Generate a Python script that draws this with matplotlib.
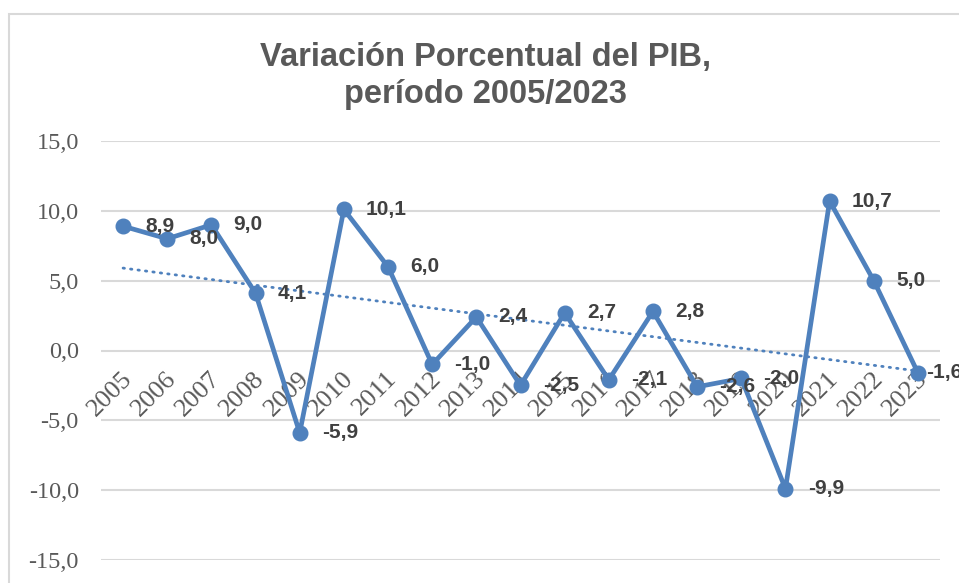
import matplotlib
matplotlib.use("Agg")
import matplotlib.pyplot as plt
import numpy as np
from matplotlib.patches import Rectangle
import matplotlib.transforms as mtransforms

years = [str(y) for y in range(2005, 2024)]
pib = [8.9, 8.0, 9.0, 4.1, -5.9, 10.1, 6.0, -1.0, 2.4, -2.5,
       2.7, -2.1, 2.8, -2.6, -2.0, -9.9, 10.7, 5.0, -1.6]
yticks = [-15, -10, -5, 0, 5, 10, 15]

azul = "#4F81BD"
gris = "#595959"

fig = plt.figure(figsize=(9.59, 5.83), dpi=100)
ax = fig.add_axes([101 / 959, 1 - 560 / 583, (940 - 101) / 959, (560 - 141) / 583])

x = np.arange(len(pib))
ax.plot(x, pib, color=azul, lw=3.4, marker="o", ms=10.5, zorder=3, clip_on=False)

# tendencia lineal
b, a = np.polyfit(x, pib, 1)
ax.plot(x, b * x + a, color=azul, lw=2, linestyle=(0, (0.5, 2.2)),
        dash_capstyle="round", zorder=2)

for i, v in enumerate(pib):
    dx = 16 if i < len(pib) - 1 else 6
    ax.annotate(f"{v:.1f}".replace(".", ","), (i, v), xytext=(dx, 0),
                textcoords="offset points", ha="left", va="center",
                fontsize=15, fontweight="bold", color="#404040",
                family="Liberation Sans", zorder=4, annotation_clip=False)

ax.set_xlim(-0.5, len(pib) - 0.5)
ax.set_ylim(-15, 15)
ax.set_yticks(yticks)
ax.set_yticklabels([f"{t:.1f}".replace(".", ",") for t in yticks],
                   family="Liberation Serif", fontsize=17.5, color=gris)
ax.tick_params(axis="y", length=0, pad=16)
ax.set_xticks([])
ax.grid(axis="y", color="#D9D9D9", lw=1.5)
ax.set_axisbelow(True)
for s in ax.spines.values():
    s.set_visible(False)

# etiquetas de años en el eje (cruza en 0)
off = mtransforms.offset_copy(ax.transData, fig=fig, x=-2, y=-17, units="dots")
for i, yr in enumerate(years):
    ax.text(i, 0, yr, transform=off, rotation=45, rotation_mode="anchor",
            ha="right", va="top", family="Liberation Serif", fontsize=19,
            color=gris, zorder=1)

fig.text(485 / 959, 1 - 76 / 583, "Variación Porcentual del PIB,\nperíodo 2005/2023",
         ha="center", va="center", fontsize=23.5, fontweight="bold",
         color=gris, family="Liberation Sans", linespacing=1.22)

fig.patches.append(Rectangle((9 / 959, -0.1), 1.2, 1 - 14 / 583 + 0.1,
                             transform=fig.transFigure, fill=False,
                             edgecolor="#D9D9D9", lw=1.5))

fig.savefig("out.png", dpi=100)
